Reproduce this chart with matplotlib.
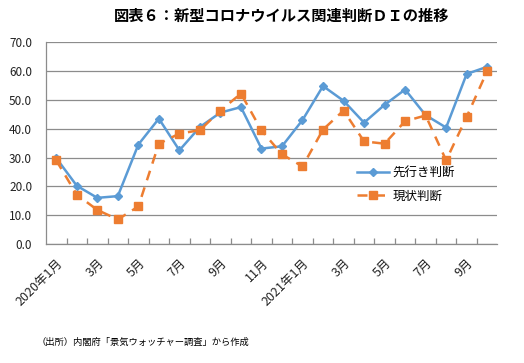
import matplotlib
matplotlib.use("Agg")
import matplotlib.pyplot as plt
import numpy as np

plt.rcParams['font.family'] = ['Noto Sans CJK JP', 'DejaVu Sans']

months = ["2020年1月", "2月", "3月", "4月", "5月", "6月", "7月", "8月", "9月", "10月", "11月", "12月",
          "2021年1月", "2月", "3月", "4月", "5月", "6月", "7月", "8月", "9月", "10月"]
outlook = [29.8, 20.2, 16.0, 16.6, 34.5, 43.5, 32.5, 40.6, 45.6, 47.5, 33.1, 33.9,
           43.0, 54.8, 49.7, 42.1, 48.3, 53.6, 44.7, 40.4, 59.0, 61.5]
current = [29.0, 17.1, 11.8, 8.5, 13.0, 34.8, 38.3, 39.5, 46.3, 52.2, 39.4, 31.1,
           26.9, 39.7, 46.3, 35.6, 34.8, 42.6, 44.6, 29.0, 44.1, 60.0]
label_outlook = "先行き判断"
label_current = "現状判断"
title = "図表６：新型コロナウイルス関連判断ＤＩの推移"
source = "（出所）内閣府「景気ウォッチャー調査」から作成"
yticks = [0, 10, 20, 30, 40, 50, 60, 70]

fig = plt.figure(figsize=(5.24, 3.63), dpi=100)
ax = fig.add_axes([0.0878, 0.328, 0.8615, 0.5555])

x = np.arange(len(months))
ax.plot(x, outlook, color='#5B9BD5', lw=1.8, marker='D', ms=4.5, label=label_outlook, zorder=3)
ax.plot(x, current, color='#ED7D31', lw=1.8, ls=(0, (4, 3)), marker='s', ms=5.2,
        label=label_current, zorder=3)

ax.set_xlim(-0.5, len(months) - 0.5)
ax.set_ylim(0, 70)
ax.set_yticks(yticks)
ax.set_yticklabels([f"{v:.1f}" for v in yticks], fontsize=8.5, color='#222222')
ax.yaxis.grid(True, color='#8c8c8c', lw=0.9)
ax.set_axisbelow(True)
ax.tick_params(axis='y', length=0, pad=10)

ax.set_xticks(x[::2])
ax.set_xticklabels(months[::2], rotation=45, ha='right', va='top', rotation_mode='anchor',
                   fontsize=9, color='#222222')
ax.tick_params(axis='x', which='major', length=0, pad=9)
ax.set_xticks(np.arange(0.5, len(months) - 0.5, 1), minor=True)
ax.tick_params(axis='x', which='minor', direction='in', length=4, color='#8c8c8c', width=0.9)

for s in ['top', 'right']:
    ax.spines[s].set_visible(False)
for s in ['left', 'bottom']:
    ax.spines[s].set_color('#8c8c8c')
    ax.spines[s].set_linewidth(0.9)

ax.legend(loc='upper left', bbox_to_anchor=(0.663, 0.44), frameon=False, fontsize=9,
          handlelength=2.6, labelspacing=0.8, handletextpad=0.3)

fig.text(0.537, 0.955, title, ha='center', va='center', fontsize=11, fontweight='bold')
fig.text(0.07, 0.058, source, ha='left', va='center', fontsize=6.7)

fig.savefig("out.png", dpi=100)
